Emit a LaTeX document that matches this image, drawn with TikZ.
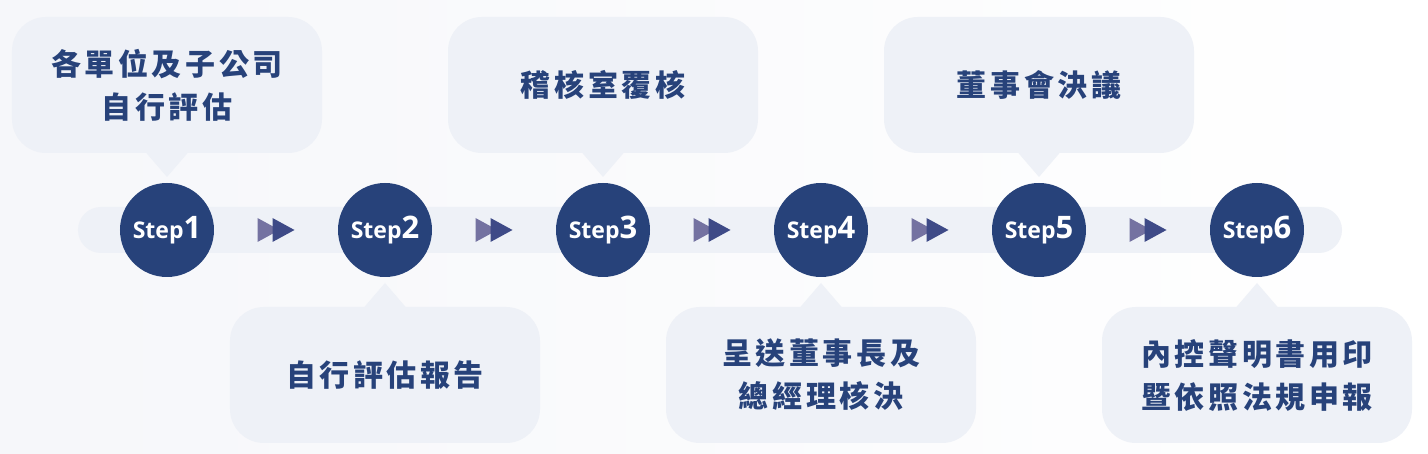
\documentclass[tikz,border=0pt]{standalone}
\usepackage{fontspec}
\usepackage{tikz}
\usetikzlibrary{calc}
\usetikzlibrary{positioning}

\newfontfamily\cjkfont[LetterSpace=12]{Noto Sans CJK TC}
\newfontfamily\stepfont{Open Sans}

\definecolor{navy}{HTML}{27427A}
\definecolor{bubblegray}{HTML}{EEF1F7}
\definecolor{bgleft}{HTML}{F6F7FA}
\definecolor{arrowlight}{HTML}{7472A1}
\definecolor{arrowdark}{HTML}{3E4A87}

\pgfdeclarelayer{background}
\pgfsetlayers{background,main}

\tikzset{
    stepnode/.style={
           circle,
           fill=navy,
           text=white,
           minimum size=94pt,
           inner sep=0pt,
           font=\stepfont\bfseries\fontsize{23}{23}\selectfont,
           },
    bubble/.style={
           rectangle,
           rounded corners=34pt,
           fill=bubblegray,
           minimum width=310pt,
           minimum height=136pt,
           text=navy,
           align=center,
           font=\cjkfont\bfseries\fontsize{30}{43}\selectfont,
           },
}
\newcommand{\stepnum}[1]{{\fontsize{31}{31}\selectfont #1}}
% double triangle half way between two steps
\newcommand{\dblarrow}[2]{%
    \coordinate (mid) at ($(#1)!0.5!(#2)$);
    \fill[arrowlight] ($(mid)+(-18.5pt,12pt)$) -- ($(mid)+(3.5pt,0pt)$) -- ($(mid)+(-18.5pt,-12pt)$) -- cycle;
    \fill[arrowdark] ($(mid)+(-3.5pt,12pt)$) -- ($(mid)+(18.5pt,0pt)$) -- ($(mid)+(-3.5pt,-12pt)$) -- cycle;
}
% pointer of a bubble towards its step (#3 = +1 above, -1 below)
\newcommand{\bubbletip}[3]{%
    \fill[bubblegray] ($(#1)+(-21.5pt,#3*-67pt)$) -- ($(#2)+(0pt,#3*53pt)$) -- ($(#1)+(21.5pt,#3*-67pt)$) -- cycle;
}

\begin{document}
\begin{tikzpicture}
      \useasboundingbox (-167pt,230pt) rectangle (1261pt,-224pt);

      % STEPS on the track
      \node[stepnode] (S1) at (0,0) {Step\stepnum{1}};
      \node[stepnode,
          right of=S1,
          node distance=218pt] (S2) {Step\stepnum{2}};
      \node[stepnode,
          right of=S2,
          node distance=218pt] (S3) {Step\stepnum{3}};
      \node[stepnode,
          right of=S3,
          node distance=218pt] (S4) {Step\stepnum{4}};
      \node[stepnode,
          right of=S4,
          node distance=218pt] (S5) {Step\stepnum{5}};
      \node[stepnode,
          right of=S5,
          node distance=218pt] (S6) {Step\stepnum{6}};

      % BUBBLES above (odd steps) and below (even steps)
      \node[bubble,
          above of=S1,
          node distance=145pt] (B1) {各單位及子公司\\自行評估};
      \node[bubble,
          below of=S2,
          node distance=145pt] (B2) {自行評估報告};
      \node[bubble,
          above of=S3,
          node distance=145pt] (B3) {稽核室覆核};
      \node[bubble,
          below of=S4,
          node distance=145pt] (B4) {呈送董事長及\\總經理核決};
      \node[bubble,
          above of=S5,
          node distance=145pt] (B5) {董事會決議};
      \node[bubble,
          below of=S6,
          node distance=145pt] (B6) {內控聲明書用印\\暨依照法規申報};

      % pointers
      \bubbletip{B1}{S1}{1}
      \bubbletip{B2}{S2}{-1}
      \bubbletip{B3}{S3}{1}
      \bubbletip{B4}{S4}{-1}
      \bubbletip{B5}{S5}{1}
      \bubbletip{B6}{S6}{-1}

      % arrows between the steps
      \dblarrow{S1}{S2}
      \dblarrow{S2}{S3}
      \dblarrow{S3}{S4}
      \dblarrow{S4}{S5}
      \dblarrow{S5}{S6}

      % background and track
      \begin{pgfonlayer}{background}
          \shade[left color=bgleft, right color=white] (-167pt,230pt) rectangle (1261pt,-224pt);
          \fill[bubblegray, rounded corners=23pt] ($(S1)+(-89pt,-23pt)$) rectangle ($(S6)+(85pt,23pt)$);
      \end{pgfonlayer}
\end{tikzpicture}
\end{document}
